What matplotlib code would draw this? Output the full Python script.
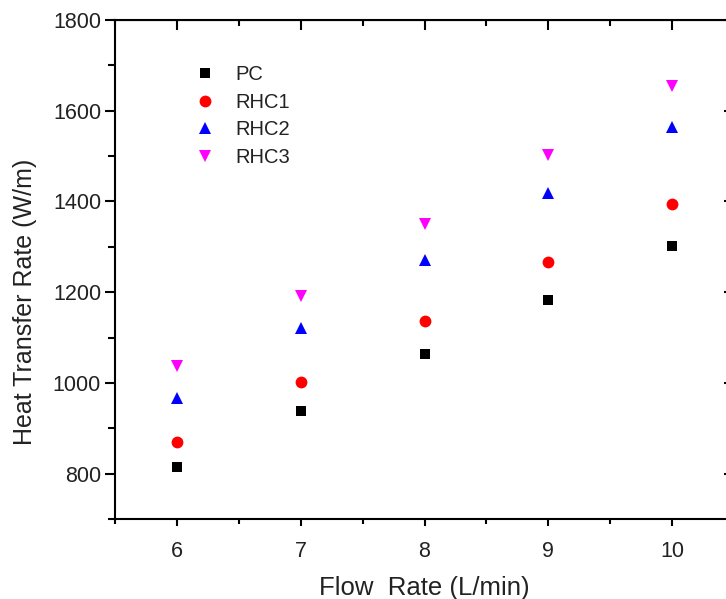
import matplotlib
matplotlib.use("Agg")
import matplotlib.pyplot as plt
from matplotlib.ticker import MultipleLocator

plt.rcParams["font.family"] = ["Liberation Sans", "DejaVu Sans"]

# data
flow_rate = [6, 7, 8, 9, 10]
pc = [815, 939, 1063, 1182, 1302]
rhc1 = [869, 1002, 1136, 1267, 1395]
rhc2 = [967, 1120, 1270, 1418, 1564]
rhc3 = [1038, 1192, 1350, 1503, 1654]

series = [
    ("PC", pc, "s", "black", 7.5),
    ("RHC1", rhc1, "o", "red", 8.5),
    ("RHC2", rhc2, "^", "blue", 9),
    ("RHC3", rhc3, "v", "magenta", 9),
]

txt = "#222222"

fig = plt.figure(figsize=(7.26, 5.99), dpi=100)
# right spine sits just past the image edge, as in the reference crop
ax = fig.add_axes([115 / 726, 80 / 599, 619 / 726, 499 / 599])

for name, vals, mk, col, ms in series:
    ax.plot(flow_rate, vals, linestyle="none", marker=mk, color=col,
            markersize=ms, markeredgewidth=0, label=name)

ax.set_xlim(5.5, 10.5)
ax.set_ylim(700, 1800)
ax.xaxis.set_major_locator(MultipleLocator(1))
ax.xaxis.set_minor_locator(MultipleLocator(0.5))
ax.yaxis.set_major_locator(MultipleLocator(200))
ax.yaxis.set_minor_locator(MultipleLocator(100))

for s in ax.spines.values():
    s.set_linewidth(1.5)

ax.tick_params(axis="x", which="major", direction="out", length=5, width=1.5,
               labelsize=15.5, pad=11, labelcolor=txt)
ax.tick_params(axis="x", which="minor", direction="out", length=3.5, width=1.5)
ax.tick_params(axis="y", which="major", direction="out", length=7, width=1.5,
               labelsize=15.5, pad=3, labelcolor=txt)
ax.tick_params(axis="y", which="minor", direction="out", length=5, width=1.5)

top = ax.secondary_xaxis("top")
top.xaxis.set_major_locator(MultipleLocator(1))
top.xaxis.set_minor_locator(MultipleLocator(0.5))
top.tick_params(which="major", direction="in", length=7, width=1.5, labeltop=False)
top.tick_params(which="minor", direction="in", length=4, width=1.5)

right = ax.secondary_yaxis("right")
right.yaxis.set_major_locator(MultipleLocator(200))
right.yaxis.set_minor_locator(MultipleLocator(100))
right.tick_params(which="major", direction="in", length=7, width=1.5, labelright=False)
right.tick_params(which="minor", direction="in", length=4, width=1.5)

ax.set_xlabel("Flow  Rate (L/min)", fontsize=18.5, color=txt)
ax.xaxis.set_label_coords(0.5, -0.115)
ax.set_ylabel("Heat Transfer Rate (W/m)", fontsize=18, color=txt)
ax.yaxis.set_label_coords(-0.126, 0.435)

leg = ax.legend(loc="upper left", bbox_to_anchor=(0.113, 0.925), frameon=False,
                fontsize=14.5, handletextpad=0.9, labelspacing=0.42,
                handlelength=1.2, borderaxespad=0)
for t in leg.get_texts():
    t.set_color(txt)

fig.savefig("out.png", dpi=100)
